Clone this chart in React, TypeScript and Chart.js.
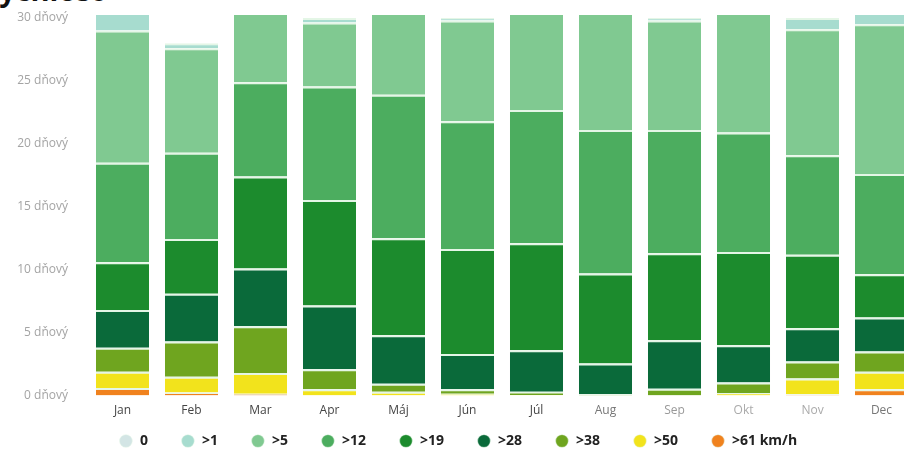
import React, { useEffect, useRef } from 'react';
import { Chart, registerables } from 'chart.js';

Chart.register(...registerables);

const months = ['Jan', 'Feb', 'Mar', 'Apr', 'Máj', 'Jún', 'Júl', 'Aug', 'Sep', 'Okt', 'Nov', 'Dec'];
const monthTickColors = ['#444', '#444', '#444', '#444', '#444', '#444', '#444', '#777', '#999', '#aaa', '#aaa', '#777'];
const yTickSuffix = ' dňový';

// days per month by wind class (bottom of stack first)
const over61 = [0.6, 0.25, 0.15, 0, 0, 0, 0, 0, 0, 0, 0.1, 0.5];
const over50 = [1.3, 1.25, 1.65, 0.5, 0.3, 0.15, 0.05, 0, 0, 0.2, 1.25, 1.4];
const over38 = [1.9, 2.8, 3.7, 1.6, 0.65, 0.35, 0.25, 0.1, 0.55, 0.85, 1.35, 1.6];
const over28 = [3.0, 3.8, 4.6, 5.05, 3.85, 2.8, 3.3, 2.45, 3.85, 2.95, 2.65, 2.7];
const over19 = [3.8, 4.35, 7.3, 8.4, 7.7, 8.35, 8.5, 7.15, 6.9, 7.4, 5.85, 3.45];
const over12 = [7.9, 6.85, 7.5, 9.0, 11.4, 10.15, 10.6, 11.4, 9.8, 9.5, 7.9, 7.95];
const over5 = [10.5, 8.3, 6.1, 5.1, 7.1, 8.0, 8.3, 9.9, 8.7, 10.1, 10.0, 11.9];
const over1 = [2.0, 0.4, 0, 0.35, 0, 0.2, 0, 0, 0.2, 0, 0.9, 1.5];
const calm = [0, 0, 0, 0, 0, 0, 0, 0, 0, 0, 0, 0];

const seriesLabels = ['>61 km/h', '>50', '>38', '>28', '>19', '>12', '>5', '>1', '0'];
const seriesValues = [over61, over50, over38, over28, over19, over12, over5, over1, calm];
const seriesColors = ['#f0821e', '#f2e31c', '#6fa51f', '#0a6a3a', '#1c8b2d', '#4cad5f', '#80c991', '#a7dccf', '#d3e5e5'];

const LEGEND_CENTER_Y = 441;

const legendShift = {
  id: 'legendShift',
  afterLayout(chart: any) {
    const lg = chart.legend;
    if (!lg) return;
    const pad = lg.options.labels.padding;
    const size = lg.options.labels.font.size;
    lg.top = LEGEND_CENTER_Y - size / 2 - pad;
    lg.bottom = chart.height;
    lg.height = lg.bottom - lg.top;
  },
};

export default function App() {
  const canvasRef = useRef<HTMLCanvasElement | null>(null);

  useEffect(() => {
    if (!canvasRef.current) return;
    const chart = new Chart(canvasRef.current, {
      type: 'bar',
      data: {
        labels: months,
        datasets: seriesValues.map((vals, i) => ({
          label: seriesLabels[i],
          data: vals,
          backgroundColor: seriesColors[i],
          borderColor: '#e4f6e6',
          borderWidth: { top: 2, right: 0, bottom: 0, left: 0 },
          borderSkipped: false,
          barPercentage: 0.77,
          categoryPercentage: 1,
          clip: { left: 0, top: 3, right: 0, bottom: 0 },
        })),
      },
      plugins: [legendShift],
      options: {
        animation: false,
        responsive: true,
        maintainAspectRatio: false,
        layout: { padding: { top: 18, left: 0, right: 0, bottom: 0 } },
        plugins: {
          tooltip: { enabled: false },
          legend: {
            position: 'bottom',
            reverse: true,
            maxHeight: 30,
            labels: {
              usePointStyle: true,
              pointStyle: 'circle',
              boxWidth: 14,
              boxHeight: 9,
              padding: 33,
              color: '#222',
              font: { family: 'Open Sans', size: 14, weight: 'bold' },
            },
          },
        },
        scales: {
          x: {
            stacked: true,
            grid: { display: false, drawTicks: false },
            border: { display: false },
            ticks: {
              color: monthTickColors,
              font: { family: 'Open Sans', size: 12 },
              padding: 8,
            },
          },
          y: {
            stacked: true,
            min: 0,
            max: 30,
            grid: { display: false, drawTicks: false },
            border: { display: false },
            ticks: {
              stepSize: 5,
              color: '#a4a4a4',
              font: { family: 'Open Sans', size: 12 },
              padding: 20,
              callback: (v: any) => v + yTickSuffix,
            },
            afterFit: (scale: any) => {
              scale.width = 88;
              scale.paddingTop = 4;
              scale.paddingBottom = 4;
            },
          },
        },
      },
    });
    return () => chart.destroy();
  }, []);

  return (
    <div style={{ position: 'fixed', left: 0, top: 0, width: 904, height: 456, overflow: 'hidden', background: '#fff' }}>
      <div
        style={{
          position: 'absolute',
          left: -20,
          top: -25,
          fontFamily: 'Open Sans',
          fontWeight: 'bold',
          fontSize: 29,
          lineHeight: '29px',
          color: '#111',
          whiteSpace: 'nowrap',
        }}
      >
        Rýchlosť
      </div>
      <div style={{ position: 'absolute', left: 0, top: 0, width: 916, height: 456 }}>
        <canvas ref={canvasRef} />
      </div>
    </div>
  );
}
